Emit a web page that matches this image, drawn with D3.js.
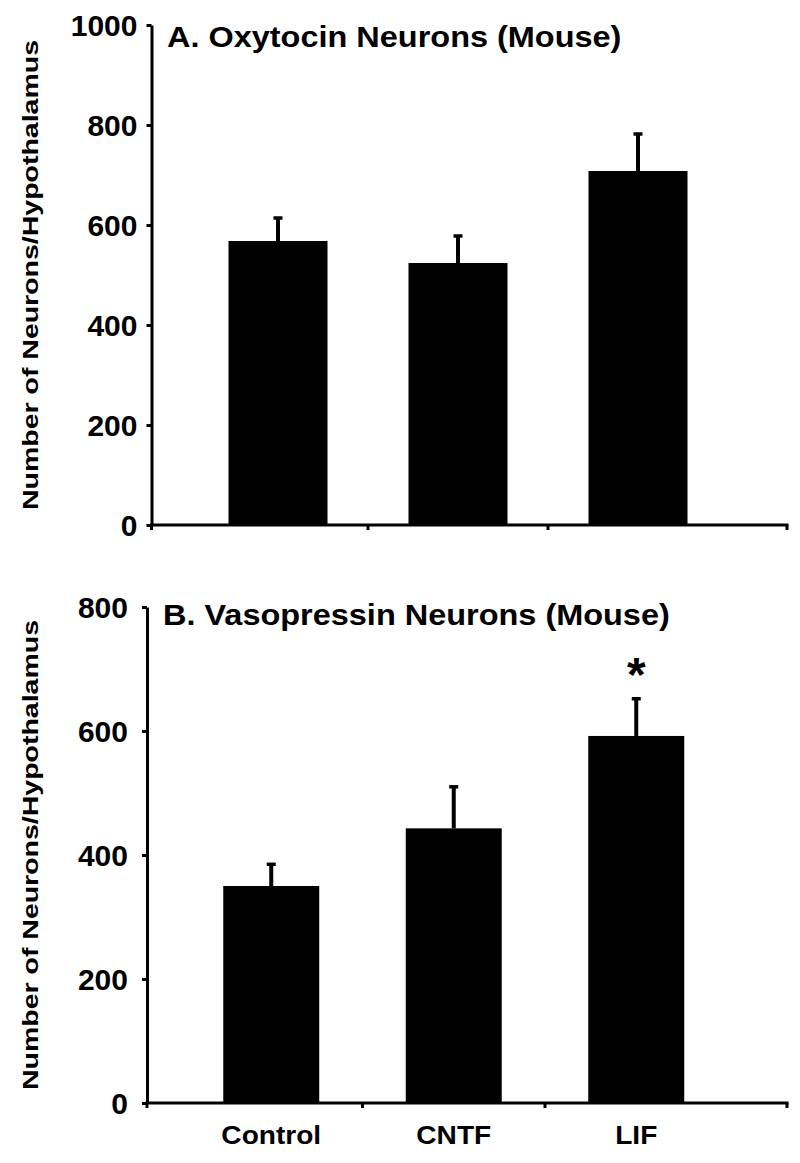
<!DOCTYPE html>
<html>
<head>
<meta charset="utf-8">
<script src="https://cdn.jsdelivr.net/npm/d3@7"></script>
<style>
  html, body { margin: 0; padding: 0; background: #fff; }
  svg { display: block; }
  text { font-family: "Liberation Sans", Arial, sans-serif; font-weight: bold; fill: #000; }
</style>
</head>
<body>
<svg id="chart" width="800" height="1163"></svg>
<script>
// ---- data ----
const categories = ["Control", "CNTF", "LIF"];
const oxytocinMeans = [568, 524, 708];
const oxytocinErrors = [46, 54, 74];
const vasopressinMeans = [350, 443, 592];
const vasopressinErrors = [35, 67, 60];
const oxytocinTicks = [0, 200, 400, 600, 800, 1000];
const vasopressinTicks = [0, 200, 400, 600, 800];
const vasopressinMarks = ["", "", "*"];
const titleA = "A. Oxytocin Neurons (Mouse)";
const titleB = "B. Vasopressin Neurons (Mouse)";
const yLabel = "Number of Neurons/Hypothalamus";

const svg = d3.select("#chart");

function panel(cfg) {
  const g = svg.append("g");
  const y = d3.scaleLinear().domain([0, cfg.yMax]).range([cfg.y0, cfg.y1]);
  const x = d3.scaleBand().domain(categories).range(cfg.xRange)
    .paddingInner(cfg.pad).paddingOuter(cfg.pad / 2);

  // bars
  g.selectAll("rect.bar").data(categories).join("rect")
    .attr("class", "bar")
    .attr("x", d => x(d))
    .attr("width", x.bandwidth())
    .attr("y", (d, i) => y(cfg.means[i]))
    .attr("height", (d, i) => y(0) - y(cfg.means[i]))
    .attr("fill", "#000");

  // error bars (upper only)
  const eb = g.selectAll("g.err").data(categories).join("g").attr("class", "err");
  eb.append("line")
    .attr("x1", d => x(d) + x.bandwidth() / 2)
    .attr("x2", d => x(d) + x.bandwidth() / 2)
    .attr("y1", (d, i) => y(cfg.means[i]))
    .attr("y2", (d, i) => y(cfg.means[i] + cfg.errs[i]))
    .attr("stroke", "#000").attr("stroke-width", 4);
  eb.append("line")
    .attr("x1", d => x(d) + x.bandwidth() / 2 - 4.5)
    .attr("x2", d => x(d) + x.bandwidth() / 2 + 4.5)
    .attr("y1", (d, i) => y(cfg.means[i] + cfg.errs[i]))
    .attr("y2", (d, i) => y(cfg.means[i] + cfg.errs[i]))
    .attr("stroke", "#000").attr("stroke-width", 3.5);

  // significance marks
  if (cfg.marks) {
    g.selectAll("text.mark").data(categories).join("text")
      .attr("class", "mark")
      .attr("x", d => x(d) + x.bandwidth() / 2)
      .attr("y", (d, i) => y(cfg.means[i] + cfg.errs[i]) - 8)
      .attr("text-anchor", "middle")
      .attr("font-size", 48)
      .text((d, i) => cfg.marks[i]);
  }

  // y axis
  const yAxis = d3.axisLeft(y).tickValues(cfg.ticks).tickSize(5).tickSizeOuter(0)
    .tickPadding(cfg.tickPad).tickFormat(d3.format("d"));
  const ya = g.append("g").attr("transform", `translate(${cfg.axisX},0)`).call(yAxis);
  ya.select(".domain").attr("stroke", "#000").attr("stroke-width", 3);
  ya.selectAll(".tick line").attr("stroke", "#000").attr("stroke-width", 3);
  ya.selectAll(".tick text").attr("font-size", 30).attr("font-family", null).attr("dy", "0.36em");

  // x axis line with ticks at category boundaries
  const xEnd = 787;
  g.append("line").attr("x1", cfg.axisX - 1.5).attr("x2", xEnd + 1.5)
    .attr("y1", y(0)).attr("y2", y(0))
    .attr("stroke", "#000").attr("stroke-width", 3);
  const bounds = [cfg.axisX];
  for (let i = 0; i < categories.length - 1; i++) {
    bounds.push((x(categories[i]) + x.bandwidth() + x(categories[i + 1])) / 2);
  }
  bounds.push(xEnd);
  g.selectAll("line.xt").data(bounds).join("line")
    .attr("class", "xt")
    .attr("x1", d => d).attr("x2", d => d)
    .attr("y1", y(0)).attr("y2", y(0) + 5)
    .attr("stroke", "#000").attr("stroke-width", 3);

  // title (slightly wide lettering as in the original)
  g.append("text")
    .attr("transform", `translate(${cfg.titleX},${cfg.titleY}) scale(1.12,1)`)
    .attr("font-size", 29).text(cfg.title);

  // y label
  g.append("text")
    .attr("transform", `translate(38,${cfg.labelMid}) rotate(-90)`)
    .attr("text-anchor", "middle")
    .attr("font-size", 22)
    .attr("textLength", cfg.labelLen)
    .attr("lengthAdjust", "spacingAndGlyphs")
    .text(yLabel);

  // x labels
  if (cfg.xLabels) {
    g.selectAll("text.xl").data(categories).join("text")
      .attr("class", "xl")
      .attr("transform", d => `translate(${x(d) + x.bandwidth() / 2},${cfg.xLabelY}) scale(1.08,1)`)
      .attr("text-anchor", "middle")
      .attr("font-size", 26)
      .text(d => d);
  }
}

panel({
  means: oxytocinMeans, errs: oxytocinErrors, ticks: oxytocinTicks, yMax: 1000,
  y0: 525, y1: 25, xRange: [188, 728], pad: 0.45, axisX: 151.5, tickPad: 9,
  title: titleA, titleX: 167, titleY: 47, labelMid: 275, labelLen: 470
});
panel({
  means: vasopressinMeans, errs: vasopressinErrors, ticks: vasopressinTicks, yMax: 800,
  y0: 1103, y1: 607, xRange: [180, 727.5], pad: 0.474, axisX: 147, tickPad: 14,
  marks: vasopressinMarks,
  title: titleB, titleX: 163, titleY: 625, labelMid: 855, labelLen: 470,
  xLabels: true, xLabelY: 1144
});
</script>
</body>
</html>
